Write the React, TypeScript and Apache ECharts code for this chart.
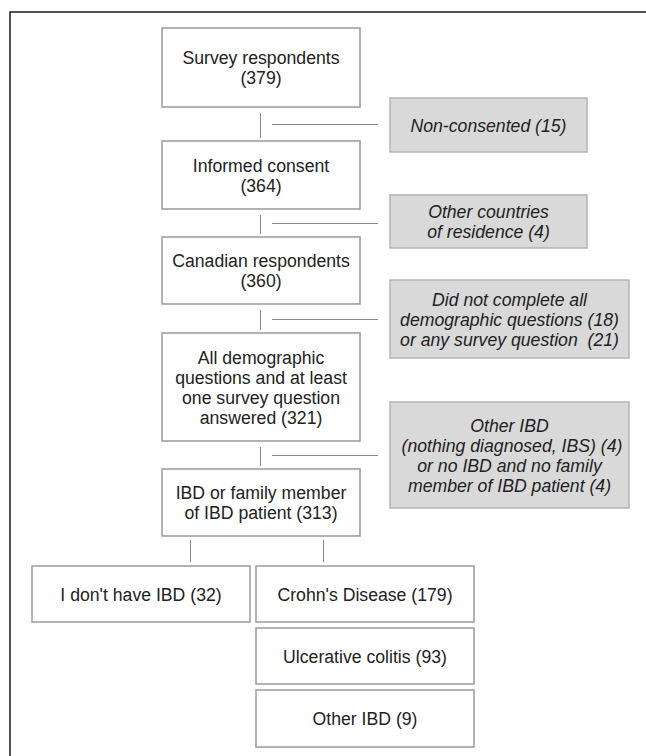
import React, { useEffect, useRef } from "react";
import * as echarts from "echarts";

// ---- data ----
const stepLabels = [
  "Survey respondents\n({n})",
  "Informed consent\n({n})",
  "Canadian respondents\n({n})",
  "All demographic\nquestions and at least\none survey question\nanswered ({n})",
  "IBD or family member\nof IBD patient ({n})",
];
const stepCounts = [379, 364, 360, 321, 313];

const exclusionLabels = [
  "Non-consented ({a})",
  "Other countries\nof residence ({a})",
  "Did not complete all\ndemographic questions ({a})\nor any survey question  ({b})",
  "Other IBD\n (nothing diagnosed, IBS) ({a})\nor no IBD and no family\nmember of IBD patient ({b})",
];
const exclusionCountsA = [15, 4, 18, 4];
const exclusionCountsB = [null, null, 21, 4];

const outcomeLabels = ["I don't have IBD", "Crohn's Disease", "Ulcerative colitis", "Other IBD"];
const outcomeCounts = [32, 179, 93, 9];

// ---- layout ----
const stepBoxes = [
  [162, 28, 360, 107],
  [162, 141, 360, 209],
  [162, 237, 360, 304],
  [162, 333, 360, 441],
  [162, 469, 360, 536],
];
const exclusionBoxes = [
  [390, 98, 587, 152],
  [390, 195, 587, 248],
  [390, 280, 629, 358],
  [390, 402, 629, 508],
];
const outcomeBoxes = [
  [32, 566, 250, 622],
  [256, 566, 474, 622],
  [256, 628, 474, 684],
  [256, 690, 474, 747],
];
const connectorY = [124, 223, 319, 455];
const branchX = [190, 323];

const FONT = "Liberation Sans, Arial, Helvetica, sans-serif";
const TEXT_COLOR = "#222222";

function box(b: number[], fill: string, stroke: string) {
  return {
    type: "rect",
    shape: { x: b[0], y: b[1], width: b[2] - b[0], height: b[3] - b[1] },
    style: { fill, stroke, lineWidth: 1.5 },
  };
}

function label(b: number[], text: string, italic: boolean) {
  return {
    type: "text",
    x: (b[0] + b[2]) / 2,
    y: (b[1] + b[3]) / 2,
    scaleX: 0.93,
    style: {
      x: 0,
      y: 0,
      text,
      align: "center",
      verticalAlign: "middle",
      fontFamily: FONT,
      fontSize: 19,
      fontStyle: italic ? "italic" : "normal",
      lineHeight: 20,
      fill: TEXT_COLOR,
    },
  };
}

function line(x1: number, y1: number, x2: number, y2: number) {
  return {
    type: "line",
    shape: { x1, y1, x2, y2 },
    style: { stroke: "#8a8a8a", lineWidth: 1 },
  };
}

export default function App() {
  const ref = useRef<HTMLDivElement>(null);
  useEffect(() => {
    if (!ref.current) return;
    const chart = echarts.init(ref.current, undefined, { renderer: "svg" });
    const elements: any[] = [];

    // outer frame (continues beyond the right and bottom edges)
    elements.push({
      type: "rect",
      shape: { x: 10, y: 12, width: 700, height: 800 },
      style: { fill: "none", stroke: "#1a1a1a", lineWidth: 1.5 },
    });

    stepBoxes.forEach((b, i) => {
      elements.push(box(b, "#ffffff", "#9a9a9a"));
      elements.push(label(b, stepLabels[i].replace("{n}", String(stepCounts[i])), false));
    });

    exclusionBoxes.forEach((b, i) => {
      elements.push(box(b, "#d9d9d9", "#b4b4b4"));
      let t = exclusionLabels[i].replace("{a}", String(exclusionCountsA[i]));
      if (exclusionCountsB[i] != null) t = t.replace("{b}", String(exclusionCountsB[i]));
      elements.push(label(b, t, true));
    });

    outcomeBoxes.forEach((b, i) => {
      elements.push(box(b, "#ffffff", "#9a9a9a"));
      elements.push(label(b, `${outcomeLabels[i]} (${outcomeCounts[i]})`, false));
    });

    // connectors between main steps with side branches to exclusions
    connectorY.forEach((cy, i) => {
      const top = stepBoxes[i][3] + 6;
      const bottom = stepBoxes[i + 1][1] - 3;
      elements.push(line(260.5, top, 260.5, bottom));
      elements.push(line(272, cy + 0.5, 378, cy + 0.5));
    });

    // branches to outcomes
    branchX.forEach((bx) => {
      elements.push(line(bx + 0.5, stepBoxes[4][3] + 4, bx + 0.5, outcomeBoxes[0][1] - 4));
    });

    chart.setOption({
      animation: false,
      backgroundColor: "#ffffff",
      graphic: { elements },
    });
    return () => chart.dispose();
  }, []);

  return (
    <div
      ref={ref}
      style={{ position: "fixed", left: 0, top: 0, width: 646, height: 756 }}
    />
  );
}
